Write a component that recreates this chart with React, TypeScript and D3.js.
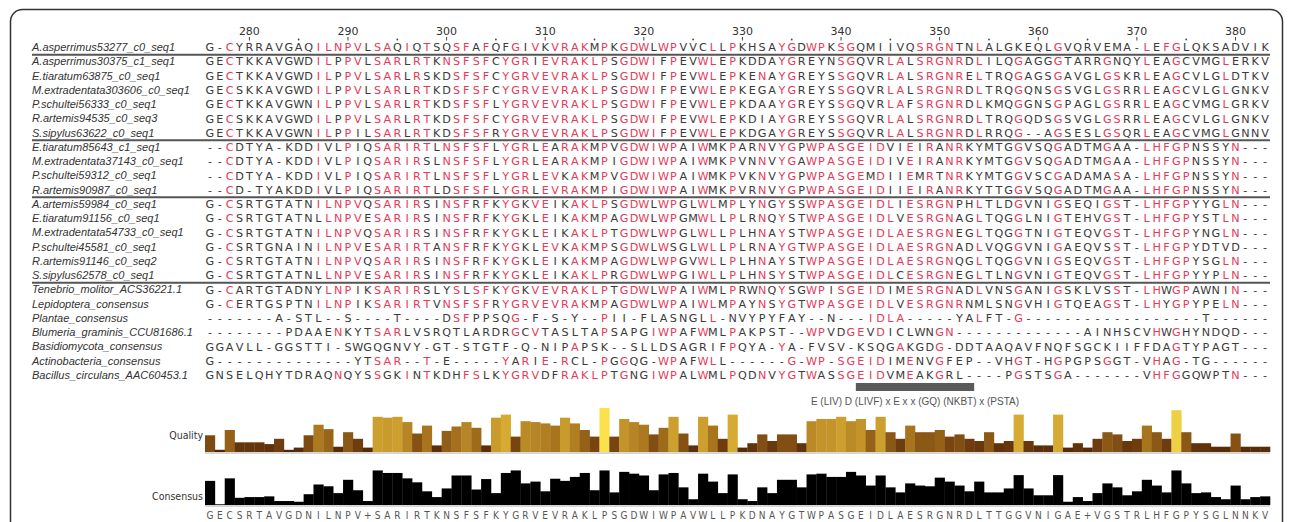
import React from "react";
import * as d3 from "d3";

const names: string[] = [
  "A.asperrimus53277_c0_seq1",
  "A.asperrimus30375_c1_seq1",
  "E.tiaratum63875_c0_seq1",
  "M.extradentata303606_c0_seq1",
  "P.schultei56333_c0_seq1",
  "R.artemis94535_c0_seq3",
  "S.sipylus63622_c0_seq1",
  "E.tiaratum85643_c1_seq1",
  "M.extradentata37143_c0_seq1",
  "P.schultei59312_c0_seq1",
  "R.artemis90987_c0_seq1",
  "A.artemis59984_c0_seq1",
  "E.tiaratum91156_c0_seq1",
  "M.extradentata54733_c0_seq1",
  "P.schultei45581_c0_seq1",
  "R.artemis91146_c0_seq2",
  "S.sipylus62578_c0_seq1",
  "Tenebrio_molitor_ACS36221.1",
  "Lepidoptera_consensus",
  "Plantae_consensus",
  "Blumeria_graminis_CCU81686.1",
  "Basidiomycota_consensus",
  "Actinobacteria_consensus",
  "Bacillus_circulans_AAC60453.1",
];

const sequences: string[] = [
  "G-CYRRAVGAQILNPVLSAQIQTSQSFAFQFGIVKVRAKMPKGDWLWPVVCLLPKHSAYGDWPKSGQMIIVQSRGNTNLALGKEQLGVQRVEMA-LEFGLQKSADVIK",
  "GECTKKAVGWDILPPVLSARLRTKNSFSFCYGRIEVRAKLPSGDWIFPEVWLEPKDDAYGREYNSGQVRLALSRGNRDLILQGAGGGTARRGNQYLEAGCVMGLERKV",
  "GECTKKAVGWDILPPVLSARLRSKDSFSFCYGRVEVRAKLPSGDWIFPEVWLEPKENAYGREYSSGQVRLALSRGNRELTRQGAGSGAVGLGSKRLEAGCVLGLDTKV",
  "GECSKKAVGWDILPPVLSARLRTKDSFSFCYGRVEVRAKLPSGDWIFPEVWLEPKEGAYGREYSSGQVRLALSRGNRDLTRQGQNSGSVGLGSRRLEAGCVLGLGNKV",
  "GECTKKAVGWNILPPVLSARLRTKDSFSFLYGRVEVRAKLPSGDWIFPEVWLEPKDAAYGREYSSGQVRLAFSRGNRDLKMQGGNSGPAGLGSRRLEAGCVMGLGRKV",
  "GECSKKAVGWDILPPVLSARLRTKDSFSFCYGRVEVRAKLPSGDWIFPEVWLEPKDIAYGREYSSGQVRLALSRGNRDLTRQGQDSGSVGLGSRRLEAGCVLGLGNKV",
  "GECTKKAVGWNILPPILSARLRTKDSFSFRYGRVEVRAKLPSGDWIFPEVWLEPKDGAYGREYSSGQVRLALSRGNRDLRRQG--AGSESLGSQRLEAGCVMGLGNNV",
  "--CDTYA-KDDIVLPIQSARIRTLNSFSFLYGRLEARAKMPVGDWIWPAIWMKPARNVYGPWPASGEIDVIEIRANRKYMTGGVSQGADTMGAA-LHFGPNSSYN---",
  "--CDTYA-KDDIVLPIQSARIRSLNSFSFLYGRLEARAKMPIGDWIWPAIWMKPVNNVYGAWPASGEIDIVEIRANRKYMTGGVSQGADTMGAA-LHFGPNSSYN---",
  "--CDTYA-KDDIVLPIQSARIRTLNSFSFLYGRLEVKAKMPVGDWIWPAIWMKPVKNVYGPWPASGEMDIIEMRTNRKYMTGGVSCGADAMASA-LHFGPNSSYN---",
  "--CD-TYAKDDIVLPIQSARIRTLDSFSFLYGRLEVRAKMPIGDWIWPAIWMKPVRNVYGPWPASGEIDIIEIRANRKYTTGGVSQGADTMGAA-LHFGPNSSYN---",
  "G-CSRTGTATNILNPVQSARIRSINSFRFKYGKVEIKAKLPSGDWLWPGLWLMPLYNGYSSWPASGEIDLIESRGNPHLTLDGVNIGSEQIGST-LHFGPYYGLN---",
  "G-CSRTGTATNLLNPVESARIRSINSFRFKYGKLEIKAKMPAGDWLWPGMWLLPLRNQYSTWPASGEIDLVESRGNAGLTQGGLNIGTEHVGST-LHFGPYSTLN---",
  "G-CSRTGTATNILNPVQSARIRSINSFRFKYGKLEIKAKLPTGDWLWPGLWLLPLHNAYSTWPASGEIDLAESRGNEGLTQGGTNIGTEQVGST-LHFGPYNGLN---",
  "G-CSRTGNAINILNPVESARIRTANSFRFKYGKLEVKAKMPSGDWLWSGLWLLPLRNAYGTWPASGEIDLAESRGNADLVQGGVNIGAEQVSST-LHFGPYDTVD---",
  "G-CSRTGTATNILNPVQSARIRSINSFRFKYGKLEIKAKMPAGDWLWPGVWLLPLHNAYSTWPASGEIDLAESRGNQGLTQGGVNIGSEQVGST-LHFGPYSGLN---",
  "G-CSRTGTATNLLNPVESARIRSINSFRFKYGKLEIKAKLPRGDWLWPGIWLLPLHNSYSTWPASGEIDLCESRGNEGLTLNGVNIGTEQVGST-LHFGPYYPLN---",
  "G-CARTGTADNYLNPIKSARIRSLYSLSFKYGKVEVRAKLPTGDWLWPAIWMLPRWNQYSGWPISGEIDIMESRGNADLVNSGANIGSKLVSST-LHWGPAWNIN---",
  "G-CERTGSPTNILNPIKSARIRTVNSFSFRYGRVEVRAKMPAGDWLWPAIWLMPAYNSYGTWPASGEIDLVESRGNRNMLSNGVHIGTQEAGST-LHYGPYPELN---",
  "-------A-STL--S----T----DSFPPSQG-F-S-Y--PII-FLASNGLL-NVYPYFAY--N---IDLA-----YALFT-G------------------T------",
  "--------PDAAENKYTSARLVSRQTLARDRGCVTASLTAPSAPGIWPAFWMLPAKPST--WPVDGEVDICLWNGN-------------AINHSCVHWGHYNDQD---",
  "GGAVLL-GGSTTI-SWGQGNVY-GT-STGTF-Q-NIPAPSK--SLLDSAGRIFPQYA-YA-FVSV-KSQGAKGDG-DDTAAQAVFNQFSGCKIIFFDAGTYPAGT---",
  "G--------------YTSAR--T-E-----YARIE-RCL-PGGQG-WPAFWLL------G-WP-SGEIDIMENVGFEP--VHGT-HGPGPSGGT-VHAG-TG------",
  "GNSELQHYTDRAQNQYSSGKINTKDHFSLKYGRVDFRAKLPTGNGIWPALWMLPQDNVYGTWASSGEIDVMEAKGRL----PGSTSGA-------VHFGGQWPTN---",
];

const consensus =
  "GECSRTAVGDNILNPV+SARIRTKNSFSFKYGRVEVRAKLPSGDWIWPAVWLLPKDNAYGTWPASGEIDLAESRGNRDLTTGGVNIGAE+VGSTRLHFGPYSGLNNKV";

const firstPosition = 276;
const rulerLabels: number[] = [280, 290, 300, 310, 320, 330, 340, 350, 360, 370, 380];
const rulerDots: number[] = [285, 295, 305, 315, 325, 335, 345, 355, 365, 375];
const groupEnds: number[] = [0, 6, 10, 16];

const motifFrom = 66;
const motifTo = 77;
const motifLabel = "E (LIV) D (LIVF) x E x x (GQ) (NKBT) x (PSTA)";

// quality track (fraction of track height)
const quality: number[] = [
  0.38, 0.05, 0.5, 0.22, 0.22, 0.22, 0.18, 0.3, 0.05, 0.1, 0.38, 0.62, 0.52, 0.12, 0.45, 0.3, 0.1,
  0.8, 0.78, 0.8, 0.68, 0.42, 0.6, 0.15, 0.48, 0.58, 0.68, 0.55, 0.15, 0.78, 0.85, 0.35, 0.7, 0.68,
  0.65, 0.6, 0.78, 0.65, 0.5, 0.35, 1.0, 0.35, 0.75, 0.68, 0.62, 0.4, 0.55, 0.8, 0.42, 0.15, 0.8,
  0.6, 0.3, 0.85, 0.1, 0.2, 0.4, 0.25, 0.4, 0.4, 0.2, 0.7, 0.75, 0.75, 0.8, 0.7, 0.75, 0.5, 0.8,
  0.45, 0.3, 0.6, 0.45, 0.45, 0.5, 0.35, 0.4, 0.3, 0.25, 0.45, 0.2, 0.25, 0.85, 0.25, 0.15, 0.15,
  0.85, 0.1, 0.2, 0.1, 0.3, 0.45, 0.4, 0.25, 0.3, 0.6, 0.45, 0.3, 0.95, 0.45, 0.2, 0.2, 0.12, 0.12,
  0.42, 0.12, 0.12, 0.12,
];

// consensus identity track (fraction of track height)
const identity: number[] = [
  0.67, 0.02, 0.74, 0.2, 0.22, 0.22, 0.24, 0.11, 0.11, 0.09, 0.3, 0.57, 0.52, 0.33, 0.7, 0.41, 0.11,
  0.96, 0.89, 0.89, 0.74, 0.63, 0.38, 0.22, 0.46, 0.82, 0.82, 0.43, 0.72, 0.33, 0.89, 0.96, 0.6,
  0.65, 0.38, 0.73, 0.67, 0.78, 0.89, 0.41, 0.96, 0.35, 0.92, 0.87, 0.82, 0.41, 0.85, 0.89, 0.49,
  0.16, 0.87, 0.65, 0.33, 0.85, 0.16, 0.11, 0.49, 0.33, 0.7, 0.7, 0.49, 0.85, 0.87, 0.78, 0.78,
  0.92, 0.82, 0.54, 0.82, 0.49, 0.35, 0.6, 0.54, 0.52, 0.76, 0.65, 0.54, 0.38, 0.65, 0.35, 0.35,
  0.46, 0.83, 0.46, 0.27, 0.27, 0.83, 0.09, 0.22, 0.11, 0.33, 0.6, 0.49, 0.27, 0.38, 0.7, 0.54,
  0.35, 0.96, 0.6, 0.33, 0.35, 0.22, 0.16, 0.54, 0.16, 0.22, 0.24,
];

const RED = "#e33b5a";
const DARK = "#3a3a3a";
const highlightMin = 11;
const unhighlighted = new Set<number>([0]);

export default function App() {
  const nCols = consensus.length;
  const nRows = sequences.length;

  const col = d3.scaleBand<number>().domain(d3.range(nCols)).range([205, 1270]);
  const bw = col.bandwidth();
  const cx = (i: number) => (col(i) as number) + bw / 2;
  const row = d3.scalePoint<number>().domain(d3.range(nRows)).range([47, 375]);

  const counts = d3.range(nCols).map((c) =>
    sequences.filter((s) => s[c] === consensus[c]).length
  );
  const isRed = (r: string, c: number) =>
    r !== "-" && r === consensus[c] && counts[c] >= highlightMin && !unhighlighted.has(c);

  const yq = d3.scaleLinear().domain([0, 1]).range([452, 408]);
  const yc = d3.scaleLinear().domain([0, 1]).range([505, 469]);
  const qColor = d3
    .scaleLinear<string>()
    .domain([0, 0.3, 0.6, 0.85, 1])
    .range(["#4a2206", "#6e3c0e", "#a8741e", "#d6aa33", "#fbe14b"]);

  const sepY = (i: number) => ((row(i) as number) + (row(i + 1) as number)) / 2 + 0.5;

  return (
    <svg
      width={1290}
      height={522}
      style={{ position: "absolute", left: 0, top: 0, background: "#fff" }}
      fontFamily="'DejaVu Sans', sans-serif"
    >
      <rect x={10.5} y={9.5} width={1272} height={560} rx={12} fill="none" stroke="#333" strokeWidth={1.5} />

      {/* ruler */}
      {rulerLabels.map((p) => (
        <g key={"r" + p}>
          <text x={cx(p - firstPosition)} y={35} fontSize={11} textAnchor="middle" fill="#333">
            {p}
          </text>
          <line x1={cx(p - firstPosition)} x2={cx(p - firstPosition)} y1={37} y2={40.5} stroke="#444" strokeWidth={1} />
        </g>
      ))}
      {rulerDots.map((p) => (
        <circle key={"d" + p} cx={cx(p - firstPosition)} cy={39.5} r={0.9} fill="#444" />
      ))}

      {/* labels */}
      {names.map((n, i) => (
        <text
          key={n}
          x={32}
          y={(row(i) as number) + 4}
          fontSize={11}
          fontStyle="italic"
          fontFamily="'Liberation Sans', Arial, sans-serif"
          fill="#333"
        >
          {n}
        </text>
      ))}

      {/* sequences */}
      {sequences.map((s, i) => (
        <g key={"s" + i}>
          {s.split("").map((r, c) => (
            <text
              key={c}
              x={cx(c)}
              y={(row(i) as number) + 4.2}
              fontSize={11.2}
              textAnchor="middle"
              fill={isRed(r, c) ? RED : DARK}
            >
              {r}
            </text>
          ))}
        </g>
      ))}

      {/* group separators */}
      {groupEnds.map((g) => (
        <line key={"g" + g} x1={32} x2={1270} y1={sepY(g)} y2={sepY(g)} stroke="#555" strokeWidth={2} />
      ))}

      {/* motif */}
      <rect
        x={col(motifFrom) as number}
        width={(col(motifTo) as number) + bw - (col(motifFrom) as number)}
        y={383}
        height={8}
        fill="#5a5a5a"
      />
      <text
        x={((col(motifFrom) as number) + (col(motifTo) as number) + bw) / 2}
        y={405}
        fontSize={10}
        textAnchor="middle"
        fill="#555"
        fontFamily="'Liberation Sans', Arial, sans-serif"
      >
        {motifLabel}
      </text>

      {/* quality track */}
      <text x={203} y={439} fontSize={10.5} textAnchor="end" fill="#333" fontFamily="'Liberation Sans Narrow', 'DejaVu Sans Condensed', sans-serif">
        Quality
      </text>
      {quality.map((v, c) => (
        <rect key={"q" + c} x={col(c) as number} width={bw + 0.3} y={yq(v)} height={yq(0) - yq(v)} fill={qColor(v)} />
      ))}
      <rect x={205} width={1065} y={452} height={2} fill="#d6d6d6" />

      {/* consensus identity track */}
      <text x={203} y={500} fontSize={10.5} textAnchor="end" fill="#333" fontFamily="'Liberation Sans Narrow', 'DejaVu Sans Condensed', sans-serif">
        Consensus
      </text>
      {identity.map((v, c) => (
        <rect key={"c" + c} x={col(c) as number} width={bw + 0.3} y={yc(v)} height={yc(0) - yc(v)} fill="#000" />
      ))}
      <rect x={205} width={1065} y={505} height={2} fill="#d6d6d6" />

      {/* consensus sequence */}
      {consensus.split("").map((r, c) => (
        <text
          key={"cs" + c}
          x={cx(c)}
          y={519}
          fontSize={10}
          textAnchor="middle"
          fill="#555"
          fontFamily="'DejaVu Sans Condensed', 'Liberation Sans Narrow', sans-serif"
        >
          {r}
        </text>
      ))}
    </svg>
  );
}
